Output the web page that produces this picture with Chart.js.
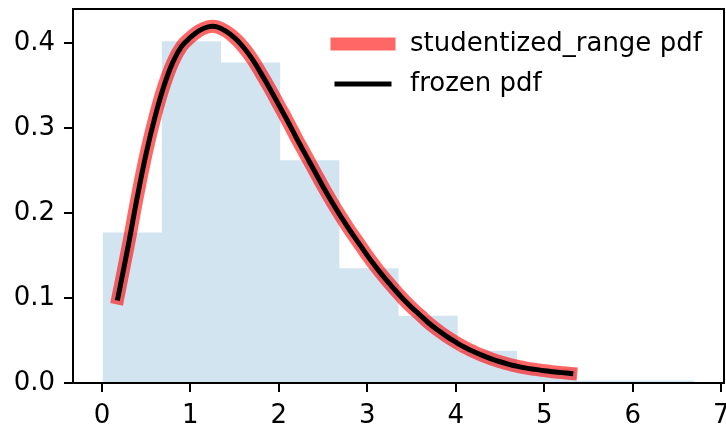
<!DOCTYPE html>
<html>
<head>
<meta charset="utf-8">
<script src="https://cdn.jsdelivr.net/npm/chart.js@4.4.1/dist/chart.umd.min.js"></script>
<style>
  html, body { margin: 0; padding: 0; background: #fff; }
  #wrap { width: 726px; height: 425px; }
</style>
</head>
<body>
<div id="wrap"><canvas id="myChart" width="726" height="425"></canvas></div>
<script>
// pdf curve (k=3, df=10), from ppf(0.01) to ppf(0.99)
const curveX = [0.18, 0.3, 0.4, 0.5, 0.6, 0.7, 0.8, 0.9, 1.0, 1.1, 1.2, 1.3, 1.4, 1.5, 1.6, 1.7, 1.8, 1.9, 2.0,
                2.1, 2.2, 2.3, 2.4, 2.5, 2.6, 2.7, 2.8, 2.9, 3.0, 3.1, 3.2, 3.3, 3.4, 3.5, 3.6, 3.7, 3.8, 3.9, 4.0,
                4.1, 4.2, 4.3, 4.4, 4.5, 4.6, 4.7, 4.8, 4.9, 5.0, 5.1, 5.2, 5.3];
const curveY = [0.100, 0.163, 0.219, 0.270, 0.313, 0.349, 0.377, 0.396, 0.4065, 0.4145, 0.419, 0.419, 0.414, 0.406, 0.395, 0.381, 0.364, 0.346, 0.327,
                0.308, 0.288, 0.269, 0.250, 0.231, 0.213, 0.196, 0.180, 0.165, 0.150, 0.136, 0.123, 0.111, 0.0995, 0.089, 0.0795, 0.070, 0.062, 0.0545, 0.048,
                0.042, 0.037, 0.0325, 0.0285, 0.025, 0.022, 0.0195, 0.0175, 0.016, 0.0145, 0.0133, 0.0122, 0.0112];

// histogram of random samples (density)
const binEdges = [0.008, 0.677, 1.346, 2.015, 2.684, 3.353, 4.022, 4.691, 5.360, 6.029, 6.698];
const binHeights = [0.177, 0.402, 0.377, 0.262, 0.135, 0.079, 0.038, 0.017, 0.003, 0.003];

const xTicks = [0, 1, 2, 3, 4, 5, 6, 7];
const yTicks = [0.0, 0.1, 0.2, 0.3, 0.4];

const curvePts = curveX.map((x, i) => ({x: x, y: curveY[i]}));
const histPts = binEdges.map((e, i) => ({x: e, y: binHeights[Math.min(i, binHeights.length - 1)]}));

const FONT = 'DejaVu Sans';
Chart.defaults.color = '#000';
Chart.defaults.font.family = FONT;
Chart.defaults.font.size = 26;

// matplotlib style frame + legend drawn inside the plot
const framePlugin = {
    id: 'frame',
    afterDraw(chart) {
        const ctx = chart.ctx;
        const a = chart.chartArea;
        ctx.save();
        ctx.strokeStyle = '#000';
        ctx.lineWidth = 2;
        ctx.strokeRect(a.left, a.top, a.right - a.left, a.bottom - a.top);

        const items = [chart.data.datasets[1], chart.data.datasets[0]];
        ctx.font = '26px "' + FONT + '"';
        ctx.textBaseline = 'middle';
        ctx.textAlign = 'left';
        items.forEach((ds, i) => {
            const y = a.top + 35 + i * 40;
            ctx.beginPath();
            ctx.lineCap = 'square';
            ctx.strokeStyle = ds.borderColor;
            ctx.lineWidth = ds.borderWidth;
            ctx.moveTo(a.right - 387, y);
            ctx.lineTo(a.right - 335, y);
            ctx.stroke();
            ctx.fillStyle = '#000';
            ctx.fillText(ds.label, a.right - 314, y);
        });
        ctx.restore();
    }
};

function fixX(s) {
    s.height = 42;
    s.paddingLeft = 0;
    s.paddingRight = 0;
}
function fixY(s) {
    s.width = 73;
    s.paddingTop = 0;
    s.paddingBottom = 0;
}

const ctx = document.getElementById('myChart');
new Chart(ctx, {
    type: 'line',
    data: {
        datasets: [{
            label: 'frozen pdf',
            data: curvePts,
            borderColor: '#000',
            borderWidth: 5,
            borderCapStyle: 'square',
            tension: 0.4,
            pointRadius: 0,
            fill: false,
            order: 1
        }, {
            label: 'studentized_range pdf',
            data: curvePts,
            borderColor: 'rgba(255,0,0,0.6)',
            borderWidth: 13,
            borderCapStyle: 'square',
            tension: 0.4,
            pointRadius: 0,
            fill: false,
            order: 2
        }, {
            label: 'hist',
            data: histPts,
            stepped: 'before',
            borderWidth: 0,
            borderColor: 'transparent',
            backgroundColor: 'rgba(31,119,180,0.2)',
            pointRadius: 0,
            fill: 'origin',
            order: 3
        }]
    },
    options: {
        responsive: false,
        animation: false,
        devicePixelRatio: 1,
        layout: {padding: {top: 9, right: 2, left: 0, bottom: 0}},
        plugins: {
            legend: {display: false},
            tooltip: {enabled: false}
        },
        scales: {
            x: {
                type: 'linear',
                min: -0.327,
                max: 7.032,
                afterFit: fixX,
                afterBuildTicks: (s) => { s.ticks = xTicks.map(v => ({value: v})); },
                ticks: {padding: 9, callback: (v) => String(v)},
                grid: {drawOnChartArea: false, color: '#000', lineWidth: 2, tickLength: 9},
                border: {display: false}
            },
            y: {
                type: 'linear',
                min: 0,
                max: 0.44,
                afterFit: fixY,
                afterBuildTicks: (s) => { s.ticks = yTicks.map(v => ({value: v})); },
                ticks: {padding: 9, callback: (v) => v.toFixed(1)},
                grid: {drawOnChartArea: false, color: '#000', lineWidth: 2, tickLength: 9},
                border: {display: false}
            }
        }
    },
    plugins: [framePlugin]
});
</script>
</body>
</html>
